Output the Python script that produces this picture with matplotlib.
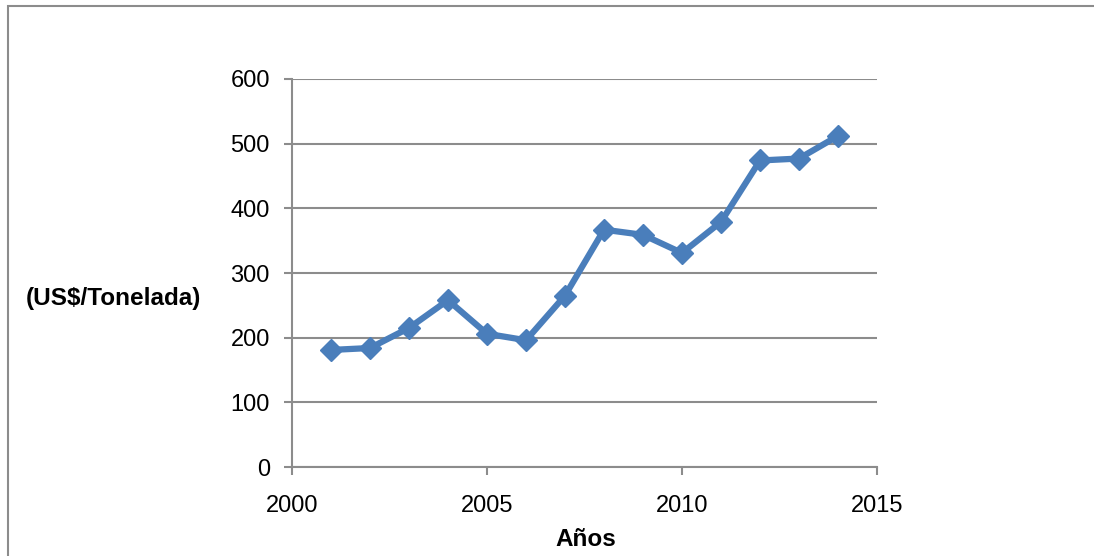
import matplotlib
matplotlib.use("Agg")
import matplotlib.pyplot as plt
from matplotlib.patches import Rectangle

years = [2001, 2002, 2003, 2004, 2005, 2006, 2007, 2008, 2009, 2010, 2011, 2012, 2013, 2014]
prices = [181, 184, 215, 258, 206, 196, 265, 367, 359, 331, 379, 474, 477, 512]
x_ticks = [2000, 2005, 2010, 2015]
y_ticks = [0, 100, 200, 300, 400, 500, 600]
x_label = "Años"
y_label = "(US$/Tonelada)"

plt.rcParams['font.family'] = ['Liberation Sans', 'DejaVu Sans']

W, H = 1094, 556
fig = plt.figure(figsize=(W / 100, H / 100), dpi=100)
fig.patch.set_facecolor('white')

# outer chart-area border (right and bottom edges fall outside the image)
fig.add_artist(Rectangle((8 / W, -0.05), 1.1, 1.05 - 6 / H,
                         transform=fig.transFigure, fill=False,
                         edgecolor='#8c8c8c', linewidth=1.5))

ax = fig.add_axes([292 / W, 1 - 467 / H, (877 - 292) / W, (467 - 79) / H])
line_color = '#4a7ebb'
ax.plot(years, prices, color=line_color, linewidth=4.5, marker='D',
        markersize=11, markerfacecolor=line_color, markeredgecolor=line_color)

ax.set_xlim(2000, 2015)
ax.set_ylim(0, 600)
ax.set_xticks(x_ticks)
ax.set_yticks(y_ticks)
ax.grid(axis='y', color='#8c8c8c', linewidth=1.5)
ax.set_axisbelow(True)
for s in ['top', 'right']:
    ax.spines[s].set_visible(False)
for s in ['left', 'bottom']:
    ax.spines[s].set_color('#8c8c8c')
    ax.spines[s].set_linewidth(1.5)
ax.tick_params(axis='both', colors='#8c8c8c', length=6, width=1.5, labelsize=17,
               labelcolor='black')
ax.tick_params(axis='y', pad=10)
ax.tick_params(axis='x', pad=14)

fig.text(113 / W, 1 - 299 / H, y_label, fontsize=17.5, fontweight='bold',
         ha='center', va='center')
fig.text(586 / W, 1 - 540 / H, x_label, fontsize=17.5, fontweight='bold',
         ha='center', va='center')

fig.savefig('out.png', dpi=100, facecolor='white')
